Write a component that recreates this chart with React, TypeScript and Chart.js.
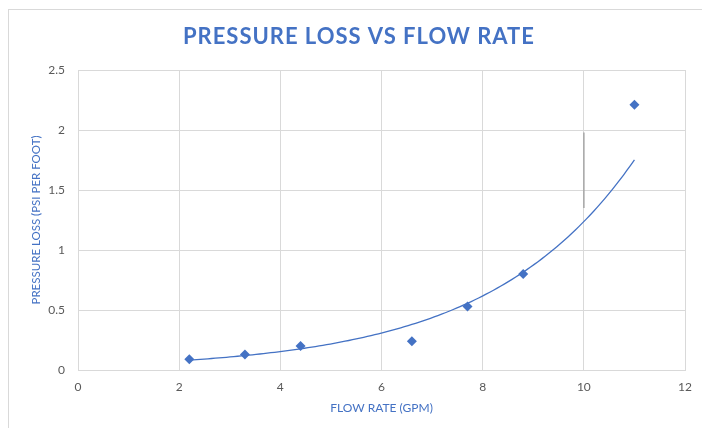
import React, { useEffect, useRef } from "react";
import { Chart, registerables } from "chart.js";

Chart.register(...registerables);

const chartTitle = "PRESSURE LOSS VS FLOW RATE";
const xAxisTitle = "FLOW RATE (GPM)";
const yAxisTitle = "PRESSURE LOSS (PSI PER FOOT)";

const flowRate = [2.2, 3.3, 4.4, 6.6, 7.7, 8.8, 11];
const pressureLoss = [0.09, 0.13, 0.2, 0.24, 0.53, 0.8, 2.21];

// short gray vertical mark seen at x = 10
const markX = [10, 10];
const markY = [1.35, 1.98];

const xTicksMin = 0;
const xTicksMax = 12;
const xStep = 2;
const yTicksMin = 0;
const yTicksMax = 2.5;
const yStep = 0.5;

const BLUE = "#4472C4";
const GRID = "#d9d9d9";
const TICK = "#595959";

// Exponential trendline (least squares on ln y), as Excel computes it
function expTrend(xs: number[], ys: number[], n: number) {
  const ly = ys.map((v) => Math.log(v));
  const mx = xs.reduce((a, b) => a + b, 0) / xs.length;
  const my = ly.reduce((a, b) => a + b, 0) / ly.length;
  let sxy = 0;
  let sxx = 0;
  xs.forEach((x, i) => {
    sxy += (x - mx) * (ly[i] - my);
    sxx += (x - mx) * (x - mx);
  });
  const b = sxy / sxx;
  const a = Math.exp(my - b * mx);
  const x0 = Math.min(...xs);
  const x1 = Math.max(...xs);
  const pts: { x: number; y: number }[] = [];
  for (let i = 0; i <= n; i++) {
    const x = x0 + ((x1 - x0) * i) / n;
    pts.push({ x, y: a * Math.exp(b * x) });
  }
  return pts;
}

const titlePlugin = {
  id: "customTitle",
  afterDraw(chart: any) {
    const ctx = chart.ctx as CanvasRenderingContext2D;
    ctx.save();
    ctx.font = "bold 22px Lato";
    ctx.fillStyle = BLUE;
    const targetW = 351;
    const w = ctx.measureText(chartTitle).width;
    const spacing = (targetW - w) / (chartTitle.length - 1);
    (ctx as any).letterSpacing = spacing.toFixed(2) + "px";
    ctx.textAlign = "left";
    ctx.textBaseline = "alphabetic";
    ctx.fillText(chartTitle, 183, 44);
    ctx.restore();
  },
};

export default function App() {
  const ref = useRef<HTMLCanvasElement | null>(null);
  useEffect(() => {
    if (!ref.current) return;
    const trend = expTrend(flowRate, pressureLoss, 120);
    const chart = new Chart(ref.current, {
      type: "scatter",
      data: {
        datasets: [
          {
            label: "mark",
            type: "line",
            data: markX.map((x, i) => ({ x, y: markY[i] })),
            borderColor: "#a6a6a6",
            borderWidth: 1.5,
            pointRadius: 0,
            showLine: true,
            order: 3,
          } as any,
          {
            label: "trend",
            type: "line",
            data: trend,
            borderColor: BLUE,
            borderWidth: 1.3,
            pointRadius: 0,
            tension: 0,
            showLine: true,
            order: 2,
          } as any,
          {
            label: "data",
            data: flowRate.map((x, i) => ({ x, y: pressureLoss[i] })),
            pointStyle: "rectRot",
            pointRadius: 5,
            backgroundColor: BLUE,
            borderColor: BLUE,
            borderWidth: 0,
            order: 1,
          },
        ],
      },
      options: {
        responsive: false,
        animation: false,
        devicePixelRatio: 1,
        layout: { padding: { top: 70, right: 16, left: 0, bottom: 0 } },
        plugins: {
          legend: { display: false },
          title: { display: false },
          tooltip: { enabled: false },
        },
        scales: {
          x: {
            type: "linear",
            min: xTicksMin,
            max: xTicksMax,
            ticks: {
              stepSize: xStep,
              color: TICK,
              font: { family: "Lato", size: 12 },
              padding: 10,
            },
            grid: { color: GRID, drawTicks: false, lineWidth: 1 },
            border: { color: GRID },
            title: {
              display: true,
              text: xAxisTitle,
              color: BLUE,
              font: { family: "Lato", size: 12 },
              padding: { top: 0, bottom: 13 },
            },
            afterFit(scale: any) {
              scale.height = 58;
            },
          },
          y: {
            type: "linear",
            min: yTicksMin,
            max: yTicksMax,
            ticks: {
              stepSize: yStep,
              color: TICK,
              font: { family: "Lato", size: 12 },
              padding: 13,
              callback: (v: any) => String(Number(v)),
            },
            grid: { color: GRID, drawTicks: false, lineWidth: 1 },
            border: { color: GRID },
            title: {
              display: true,
              text: yAxisTitle,
              color: BLUE,
              font: { family: "Lato", size: 11.5 },
              padding: { top: 29, bottom: 0 },
            },
            afterFit(scale: any) {
              scale.width = 78;
            },
          },
        },
      },
      plugins: [titlePlugin],
    });
    return () => chart.destroy();
  }, []);

  return (
    <div>
      <div
        style={{
          position: "fixed",
          left: 8,
          top: 9,
          width: 694,
          height: 419,
          borderTop: "1px solid #d9d9d9",
          borderLeft: "1px solid #d9d9d9",
          boxSizing: "border-box",
        }}
      />
      <canvas
        ref={ref}
        width={702}
        height={428}
        style={{ position: "fixed", left: 0, top: 0, width: 702, height: 428 }}
      />
    </div>
  );
}
